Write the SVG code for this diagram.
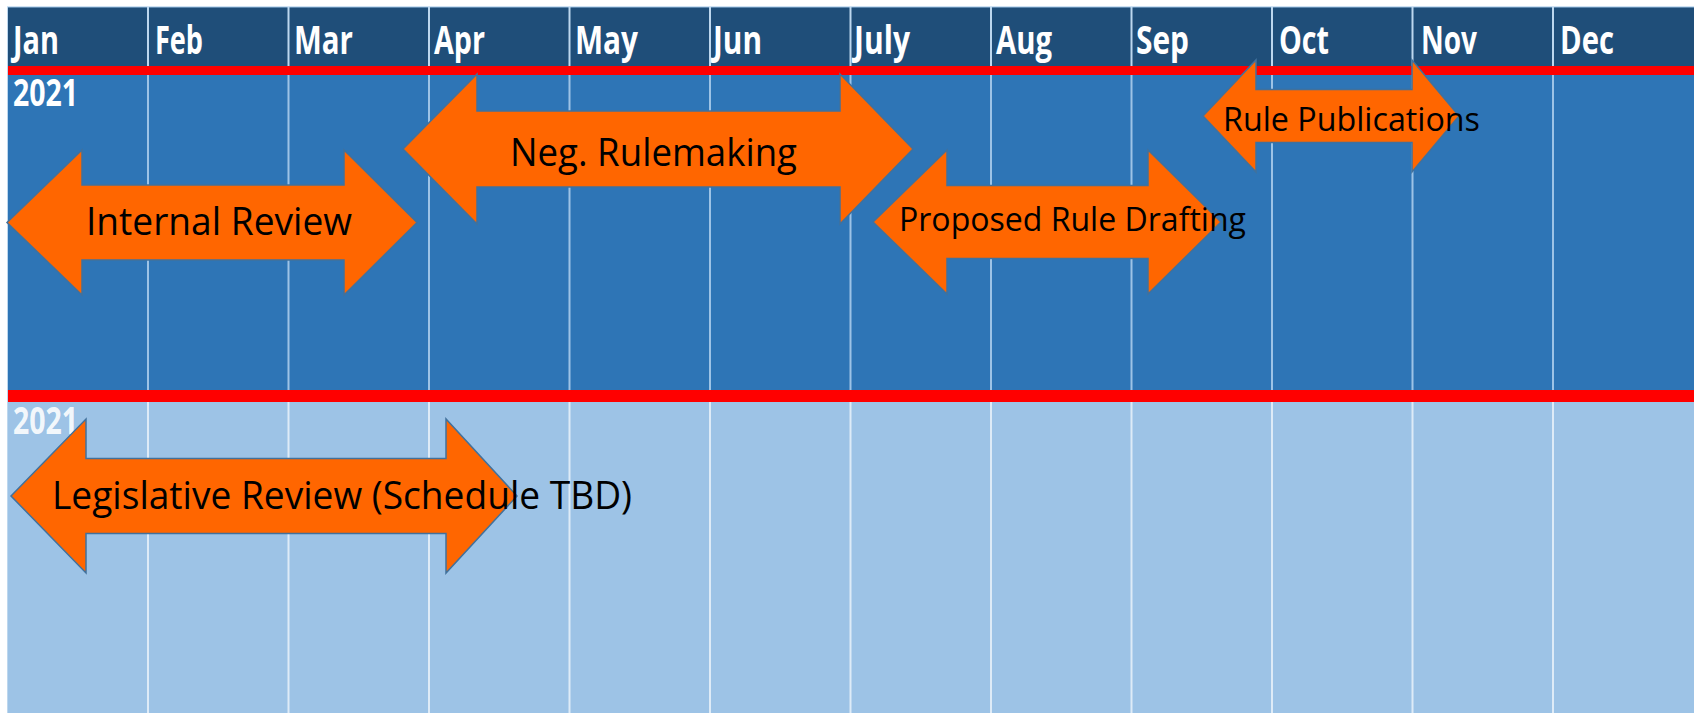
<svg xmlns="http://www.w3.org/2000/svg" width="1694" height="714" viewBox="0 0 1694 714">
<style>
.month{font-family:"Open Sans","Noto Sans",sans-serif;font-weight:700;font-size:39px;fill:#ffffff}
.year{font-family:"Open Sans","Noto Sans",sans-serif;font-weight:700;font-size:37px;fill:#ffffff}
.lbl{font-family:"Open Sans","Noto Sans",sans-serif;font-size:38px;fill:#000000}
.lbls{font-family:"Open Sans","Noto Sans",sans-serif;font-size:33px;fill:#000000}
.arrow{fill:#FF6600;stroke:#41719C;stroke-width:1.5;stroke-linejoin:miter}
.vline{stroke:#9DC3E6;stroke-width:2}
.vlineh{stroke:#BDD7EE;stroke-width:2}
.vlinel{stroke:#DEEBF7;stroke-width:2}
</style>
<rect x="0" y="0" width="1694" height="714" fill="#ffffff"/>
<g id="background">
  <rect x="7" y="7" width="1687" height="60" fill="#1F4E79"/>
  <rect x="7" y="74" width="1687" height="317" fill="#2E75B6"/>
  <rect x="7" y="401" width="1687" height="312" fill="#9DC3E6"/>
  <rect x="7" y="66" width="1687" height="9" fill="#FF0000"/>
  <rect x="7" y="390" width="1687" height="12" fill="#FF0000"/>
  <line x1="7" y1="7" x2="1694" y2="7" stroke="#9DC3E6" stroke-width="1"/>
  <line x1="7.5" y1="7" x2="7.5" y2="713" stroke="#BDD7EE" stroke-width="1"/>
</g>
<g id="gridlines">
  <g class="vlineh">
    <line x1="148" y1="7" x2="148" y2="66"/><line x1="288.5" y1="7" x2="288.5" y2="66"/><line x1="429" y1="7" x2="429" y2="66"/><line x1="569.5" y1="7" x2="569.5" y2="66"/><line x1="710" y1="7" x2="710" y2="66"/><line x1="850.5" y1="7" x2="850.5" y2="66"/><line x1="991" y1="7" x2="991" y2="66"/><line x1="1131.5" y1="7" x2="1131.5" y2="66"/><line x1="1272" y1="7" x2="1272" y2="66"/><line x1="1412.5" y1="7" x2="1412.5" y2="66"/><line x1="1553" y1="7" x2="1553" y2="66"/>
  </g>
  <g class="vline">
    <line x1="148" y1="75" x2="148" y2="390"/><line x1="288.5" y1="75" x2="288.5" y2="390"/><line x1="429" y1="75" x2="429" y2="390"/><line x1="569.5" y1="75" x2="569.5" y2="390"/><line x1="710" y1="75" x2="710" y2="390"/><line x1="850.5" y1="75" x2="850.5" y2="390"/><line x1="991" y1="75" x2="991" y2="390"/><line x1="1131.5" y1="75" x2="1131.5" y2="390"/><line x1="1272" y1="75" x2="1272" y2="390"/><line x1="1412.5" y1="75" x2="1412.5" y2="390"/><line x1="1553" y1="75" x2="1553" y2="390"/>
  </g>
  <g class="vlinel">
    <line x1="148" y1="402" x2="148" y2="713"/><line x1="288.5" y1="402" x2="288.5" y2="713"/><line x1="429" y1="402" x2="429" y2="713"/><line x1="569.5" y1="402" x2="569.5" y2="713"/><line x1="710" y1="402" x2="710" y2="713"/><line x1="850.5" y1="402" x2="850.5" y2="713"/><line x1="991" y1="402" x2="991" y2="713"/><line x1="1131.5" y1="402" x2="1131.5" y2="713"/><line x1="1272" y1="402" x2="1272" y2="713"/><line x1="1412.5" y1="402" x2="1412.5" y2="713"/><line x1="1553" y1="402" x2="1553" y2="713"/>
  </g>
</g>
<g id="months">
  <text class="month" x="13" y="54" textLength="46" lengthAdjust="spacingAndGlyphs">Jan</text>
  <text class="month" x="155" y="54" textLength="48" lengthAdjust="spacingAndGlyphs">Feb</text>
  <text class="month" x="294" y="54" textLength="59" lengthAdjust="spacingAndGlyphs">Mar</text>
  <text class="month" x="434" y="54" textLength="51" lengthAdjust="spacingAndGlyphs">Apr</text>
  <text class="month" x="575" y="54" textLength="63" lengthAdjust="spacingAndGlyphs">May</text>
  <text class="month" x="713" y="54" textLength="49" lengthAdjust="spacingAndGlyphs">Jun</text>
  <text class="month" x="854" y="54" textLength="56" lengthAdjust="spacingAndGlyphs">July</text>
  <text class="month" x="996" y="54" textLength="56" lengthAdjust="spacingAndGlyphs">Aug</text>
  <text class="month" x="1136" y="54" textLength="53" lengthAdjust="spacingAndGlyphs">Sep</text>
  <text class="month" x="1279" y="54" textLength="50" lengthAdjust="spacingAndGlyphs">Oct</text>
  <text class="month" x="1421" y="54" textLength="56" lengthAdjust="spacingAndGlyphs">Nov</text>
  <text class="month" x="1560" y="54" textLength="54" lengthAdjust="spacingAndGlyphs">Dec</text>
</g>
<g id="years">
  <text class="year" x="13" y="106" textLength="65" lengthAdjust="spacingAndGlyphs">2021</text>
  <text class="year" x="13" y="434" textLength="65" lengthAdjust="spacingAndGlyphs" fill-opacity="0.9">2021</text>
</g>
<g id="connectors"></g>
<g id="internal-review">
  <path class="arrow" d="M7,222.5 L82,150 L82,185 L344,185 L344,150 L417,222.5 L344,295 L344,260 L82,260 L82,295 Z"/>
  <text class="lbl" x="86" y="235" textLength="266" lengthAdjust="spacingAndGlyphs">Internal Review</text>
</g>
<g id="neg-rulemaking">
  <path class="arrow" d="M403,149 L477,74 L477,111 L840,111 L840,74 L913,149 L840,224 L840,187 L477,187 L477,224 Z"/>
  <text class="lbl" x="510" y="166" textLength="287" lengthAdjust="spacingAndGlyphs">Neg. Rulemaking</text>
</g>
<g id="proposed-rule-drafting">
  <path class="arrow" d="M873,222 L947,150 L947,185.5 L1148,185.5 L1148,150 L1221,222 L1148,294 L1148,258.5 L947,258.5 L947,294 Z"/>
  <text class="lbls" x="899" y="231" textLength="347" lengthAdjust="spacingAndGlyphs">Proposed Rule Drafting</text>
</g>
<g id="rule-publications">
  <path class="arrow" d="M1203,116 L1256,60 L1256,89.5 L1412,89.5 L1412,60 L1459,116 L1412,172 L1412,142.5 L1256,142.5 L1256,172 Z"/>
  <text class="lbls" x="1223" y="131" textLength="257" lengthAdjust="spacingAndGlyphs">Rule Publications</text>
</g>
<g id="legislative-review">
  <path class="arrow" d="M11,496 L86,419 L86,458.5 L446,458.5 L446,419 L517,496 L446,573 L446,533.5 L86,533.5 L86,573 Z" stroke-width="2"/>
  <text class="lbl" x="52" y="509" textLength="580" lengthAdjust="spacingAndGlyphs">Legislative Review (Schedule TBD)</text>
</g>
</svg>
